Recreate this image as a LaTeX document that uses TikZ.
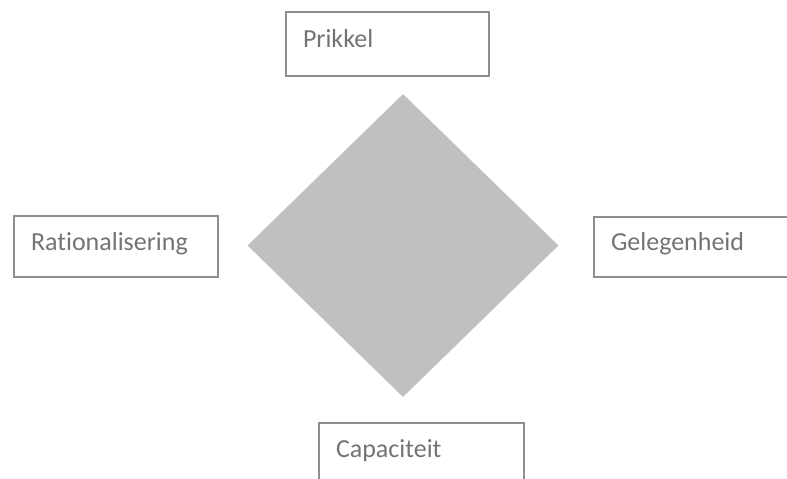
\documentclass[tikz,border=0pt]{standalone}
\usepackage{fontspec}
\setmainfont{Carlito}[Ligatures=NoCommon]
\usetikzlibrary{shapes.geometric}
\definecolor{boxline}{HTML}{8E8E8E}
\definecolor{boxtext}{HTML}{747474}
\definecolor{kite}{HTML}{C0C0C0}
\tikzset{
  factor/.style={draw=boxline, line width=2pt, fill=white, rectangle,
    anchor=north west, inner xsep=17pt, inner ysep=0pt,
    text=boxtext, font=\fontsize{26}{30}\selectfont,
    text height=12pt, text depth=5pt, align=left},
}
\begin{document}
\begin{tikzpicture}[x=1pt, y=-1pt]
  \useasboundingbox (0,0) rectangle (787,479);
  \clip (0,0) rectangle (787,479);
  % central diamond
  \node[diamond, fill=kite, draw=none, inner sep=0pt,
        minimum width=311pt, minimum height=303pt] (core) at (403,245.5) {};
  % the four factors
  \node[factor, minimum width=203pt, minimum height=64pt, text width=169pt] (prikkel) at (285,11) {Prikkel};
  \node[factor, minimum width=204pt, minimum height=61pt, text width=170pt] (ratio) at (13,215) {Rationalisering};
  \node[factor, minimum width=215pt, minimum height=60pt, text width=181pt] (gelegen) at (593,216) {Gelegenheid};
  \node[factor, minimum width=205pt, minimum height=61pt, text width=171pt] (capac) at (318,422) {Capaciteit};
\end{tikzpicture}
\end{document}
